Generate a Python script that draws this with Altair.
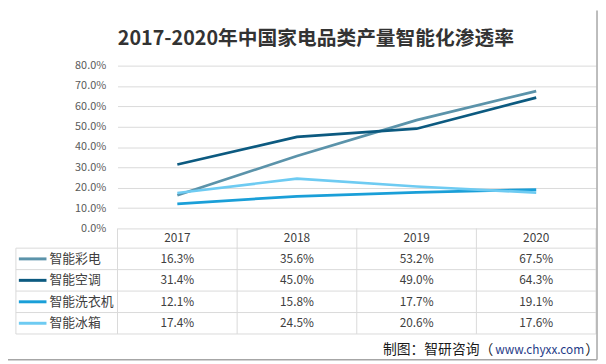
import altair as alt
import pandas as pd

# ---------------- data ----------------
title_text = "2017-2020年中国家电品类产量智能化渗透率"
years = ["2017", "2018", "2019", "2020"]
series = ["智能彩电", "智能空调", "智能洗衣机", "智能冰箱"]
tv = [16.3, 35.6, 53.2, 67.5]
ac = [31.4, 45.0, 49.0, 64.3]
washer = [12.1, 15.8, 17.7, 19.1]
fridge = [17.4, 24.5, 20.6, 17.6]
y_ticks = [0, 0.1, 0.2, 0.3, 0.4, 0.5, 0.6, 0.7, 0.8]
colors = ["#5b93aa", "#0c5a80", "#1a9fd8", "#6ecbf2"]
source_a = "制图：智研咨询（"
source_url = "www.chyxx.com"
source_b = "）"

F = "Noto Sans CJK SC"

rows = []
for i, (name, vals) in enumerate(zip(series, [tv, ac, washer, fridge])):
    for y, v in zip(years, vals):
        rows.append({"series": name, "year": y, "value": v / 100.0,
                     "label": f"{v:.1f}%", "pos": i + 1.5})
df = pd.DataFrame(rows)
legend_df = pd.DataFrame({"series": series, "pos": [i + 1.5 for i in range(len(series))]})
header_df = pd.DataFrame({"year": years, "pos": [0.5] * len(years)})
hline_df = pd.DataFrame({"pos": [1, 2, 3, 4, 5]})
vline_df = pd.DataFrame({"year": years, "y0": [0] * 4, "y1": [5] * 4})
edge_df = pd.DataFrame({"y0": [0], "y1": [5], "l0": [1]})

W, H = 485, 272
x_scale = alt.Scale(type="band", domain=years, paddingInner=0, paddingOuter=0)
color_scale = alt.Scale(domain=series, range=colors)


def X(bp):
    return alt.X("year:N", scale=x_scale, axis=None, bandPosition=bp)


ts = alt.Scale(domain=[0, 1, 5], range=[165, 185, 272], zero=False, nice=False)


def TY(field="pos"):
    return alt.Y(f"{field}:Q", scale=ts, axis=None)


grid_color = "#d9d9d9"

lines = alt.Chart(df).mark_line(strokeWidth=2.75).encode(
    x=X(0.5),
    y=alt.Y("value:Q",
            scale=alt.Scale(domain=[0, 0.8], range=[165, 0], zero=False, nice=False),
            axis=alt.Axis(values=y_ticks, format=".1%", grid=True, gridColor=grid_color,
                          domain=False, ticks=False, labelFontSize=11, labelColor="#595959",
                          labelFont=F, labelPadding=12, title=None)),
    color=alt.Color("series:N", scale=color_scale, legend=None),
)

hlines = alt.Chart(hline_df).mark_rule(color=grid_color, strokeWidth=1).encode(
    x=alt.value(-103), x2=alt.value(W), y=TY())

vlines = alt.Chart(vline_df).mark_rule(color=grid_color, strokeWidth=1).encode(
    x=X(0), y=TY("y0"), y2="y1:Q")

right_edge = alt.Chart(edge_df).mark_rule(color=grid_color, strokeWidth=1).encode(
    x=alt.value(W), y=TY("y0"), y2="y1:Q")

left_edge = alt.Chart(edge_df).mark_rule(color=grid_color, strokeWidth=1).encode(
    x=alt.value(-103), y=TY("l0"), y2="y1:Q")

cells = alt.Chart(df).mark_text(font=F, fontSize=12, color="#404040", baseline="middle").encode(
    x=X(0.5), y=TY(), text="label:N")

header = alt.Chart(header_df).mark_text(font=F, fontSize=12, color="#404040", baseline="middle").encode(
    x=X(0.5), y=TY(), text="year:N")

swatches = alt.Chart(legend_df).mark_rule(strokeWidth=3).encode(
    x=alt.value(-100), x2=alt.value(-72), y=TY(),
    color=alt.Color("series:N", scale=color_scale, legend=None))

legend_text = alt.Chart(legend_df).mark_text(font=F, fontSize=13, color="#404040",
                                             align="left", baseline="middle").encode(
    x=alt.value(-69), y=TY(), text="series:N")

title = alt.Chart(pd.DataFrame({"t": [title_text]})).mark_text(
    font=F, fontSize=20, fontWeight="bold", color="#333333", baseline="middle").encode(
    x=alt.value(201), y=alt.value(-26.5), text="t:N")

src1 = alt.Chart(pd.DataFrame({"t": [source_a]})).mark_text(
    font=F, fontSize=14, color="#1a1a1a", align="left", baseline="middle").encode(
    x=alt.value(269), y=alt.value(288), text="t:N")
src2 = alt.Chart(pd.DataFrame({"t": [source_url]})).mark_text(
    font=F, fontSize=12, color="#1f3c88", align="right", baseline="middle").encode(
    x=alt.value(473), y=alt.value(288), text="t:N")
src3 = alt.Chart(pd.DataFrame({"t": [source_b]})).mark_text(
    font=F, fontSize=14, color="#1a1a1a", align="left", baseline="middle").encode(
    x=alt.value(474), y=alt.value(288), text="t:N")

frame_r = alt.Chart(pd.DataFrame({"a": [0]})).mark_rule(color="#a6a6a6", strokeWidth=1.5).encode(
    x=alt.value(486), y=alt.value(-56), y2=alt.value(298))
frame_b = alt.Chart(pd.DataFrame({"a": [0]})).mark_rule(color="#a6a6a6", strokeWidth=1.5).encode(
    x=alt.value(-111), x2=alt.value(486), y=alt.value(298))

chart = alt.layer(
    lines, hlines, vlines, right_edge, left_edge, cells, header, swatches, legend_text,
    title, src1, src2, src3, frame_r, frame_b
).resolve_scale(y="independent").properties(
    width=W, height=H,
    autosize=alt.AutoSizeParams(type="none"),
    padding={"left": 111, "top": 56, "right": 2, "bottom": 28},
    background="white",
).configure_view(stroke=None)

chart.save("out.html", embed_options={"renderer": "svg", "actions": False})
